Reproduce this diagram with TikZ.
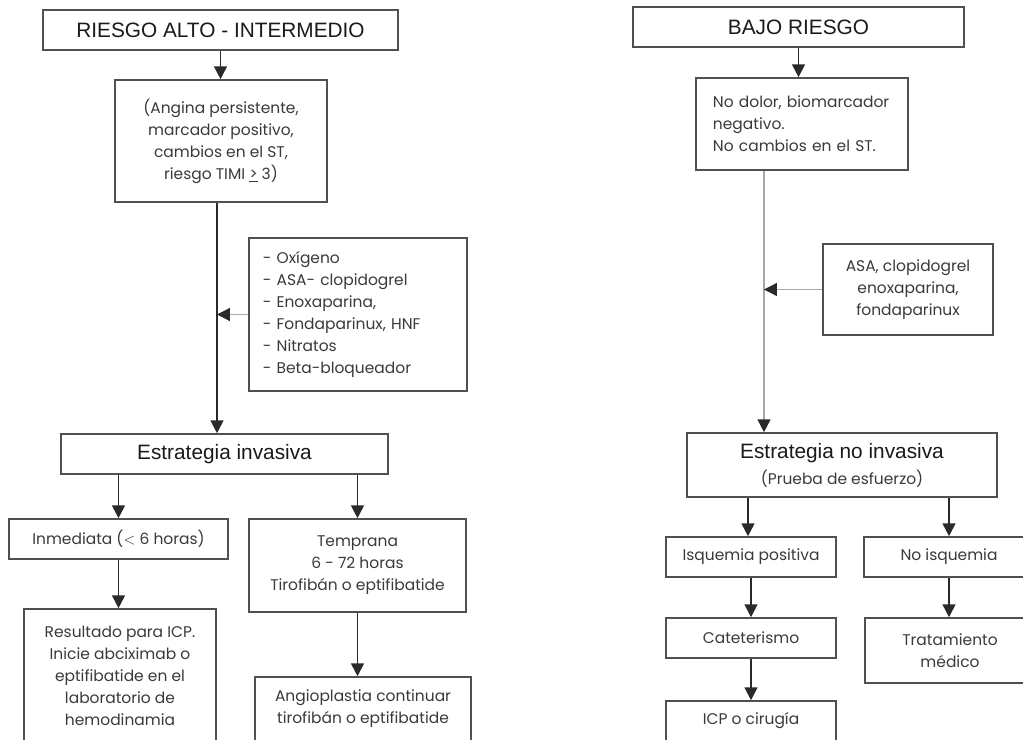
\documentclass[tikz,border=0pt]{standalone}
\usepackage{fontspec}
\setmainfont{Poppins}
\newfontfamily\arialf{Liberation Sans}
\newfontfamily\popf{Poppins}
\usetikzlibrary{arrows.meta}
\definecolor{boxc}{HTML}{505050}
\definecolor{txtc}{HTML}{3A3A3A}
\definecolor{ttlc}{HTML}{1A1A1A}
\definecolor{linec}{HTML}{2A2A2A}
\definecolor{lightc}{HTML}{A8A8A8}
\newcommand{\bodyfont}{\popf\fontsize{11}{15.6}\selectfont}
\newcommand{\ttlfont}{\arialf\fontsize{14.8}{17}\selectfont}
\begin{document}
\begin{tikzpicture}[x=0.025cm,y=-0.025cm,
  box/.style={draw=boxc, line width=1.1pt, inner sep=0pt, text=txtc, font=\bodyfont, align=center},
  tbox/.style={box, text=ttlc, font=\ttlfont},
  arr/.style={draw=linec, line width=1.2pt, -{Triangle[width=0.32cm,length=0.32cm]}},
  arrlong/.style={draw=lightc, line width=1.1pt, -{Triangle[width=0.32cm,length=0.32cm,color=linec]}},
  arrside/.style={draw=lightc, line width=0.9pt, -{Triangle[width=0.32cm,length=0.32cm,color=linec]}},
]
\clip (0,0) rectangle (1023,740);
\fill[white] (0,0) rectangle (1023,740);

% ---------- left column ----------
\node[tbox, minimum width=8.875cm, minimum height=1.0cm] (ta) at (220.5,30) {RIESGO ALTO - INTERMEDIO};
\node[box, minimum width=5.3cm, minimum height=3.05cm] (cr) at (221,141)
  {(Angina persistente,\\ marcador positivo,\\ cambios en el ST,\\ riesgo TIMI \underline{>} 3)};
\node[box, align=left, text width=4.75cm, minimum width=5.45cm, minimum height=3.825cm] (md) at (358,314.5)
  {- Oxígeno\\ - ASA- clopidogrel\\ - Enoxaparina,\\ - Fondaparinux, HNF\\ - Nitratos\\ - Beta-bloqueador};
\node[tbox, minimum width=8.175cm, minimum height=1.0cm] (ei) at (224.5,454) {Estrategia invasiva};
\node[box, minimum width=5.475cm, minimum height=1.0cm] (in) at (118.5,539) {Inmediata ($<$ 6 horas)};
\node[box, minimum width=5.425cm, minimum height=2.325cm] (te) at (357.5,565.5)
  {Temprana\\ 6 - 72 horas\\ Tirofibán o eptifibatide};
\node[box, minimum width=4.8cm, minimum height=3.35cm] (re) at (120,676)
  {Resultado para ICP.\\ Inicie abciximab o\\ eptifibatide en el\\ laboratorio de\\ hemodinamia};
\node[box, minimum width=5.4cm, minimum height=1.6cm] (an) at (363,709)
  {Angioplastia continuar\\ tirofibán o eptifibatide};

\draw[arr] (ta.south) -- (ta.south |- cr.north);
\coordinate (lv) at ([xshift=-0.1cm]cr.south);
\draw[arr] (lv) -- (lv |- ei.north);
\draw[arrside] (md.west) -- (md.west -| lv);
\draw[arr] (ei.south -| in.north) -- (in.north);
\draw[arr] (ei.south -| te.north) -- (te.north);
\draw[arr] (in.south) -- (in.south |- re.north);
\draw[arr] (te.south) -- (te.south |- an.north);

% ---------- right column ----------
\node[tbox, minimum width=8.275cm, minimum height=1.0cm] (tb) at (798.5,27) {BAJO RIESGO};
\node[box, align=left, text width=4.45cm, minimum width=5.3cm, minimum height=2.3cm] (nd) at (802,124)
  {No dolor, biomarcador\\ negativo.\\ No cambios en el ST.};
\node[box, minimum width=4.25cm, minimum height=2.275cm] (ms) at (908,289.5)
  {ASA, clopidogrel\\ enoxaparina,\\ fondaparinux};
\node[box, minimum width=7.75cm, minimum height=1.6cm] (en) at (842,465)
  {{\ttlfont\color{ttlc}Estrategia no invasiva}\\[3pt] (Prueba de esfuerzo)};
\node[box, minimum width=4.25cm, minimum height=1.0cm] (ip) at (751,557) {Isquemia positiva};
\node[box, minimum width=4.25cm, minimum height=1.0cm] (ni) at (949,557) {No isquemia};
\node[box, minimum width=4.25cm, minimum height=1.0cm] (ca) at (751,638) {Cateterismo};
\node[box, minimum width=4.25cm, minimum height=1.0cm] (ic) at (751,721) {ICP o cirugía};
\node[box, minimum width=4.25cm, minimum height=1.625cm] (tm) at (950,650.5) {Tratamiento\\ médico};

\draw[arr] (tb.south) -- (tb.south |- nd.north);
\coordinate (rv) at ([xshift=-0.95cm]nd.south);
\draw[arrlong] (rv) -- (rv |- en.north);
\draw[arrside] (ms.west) -- (ms.west -| rv);
\draw[arr] ([xshift=-0.075cm]en.south -| ip.north) -- ([xshift=-0.075cm]ip.north);
\draw[arr] (en.south -| ni.north) -- (ni.north);
\draw[arr] (ip.south) -- (ca.north);
\draw[arr] (ca.south) -- (ic.north);
\draw[arr] (ni.south) -- (ni.south |- tm.north);
\end{tikzpicture}
\end{document}
